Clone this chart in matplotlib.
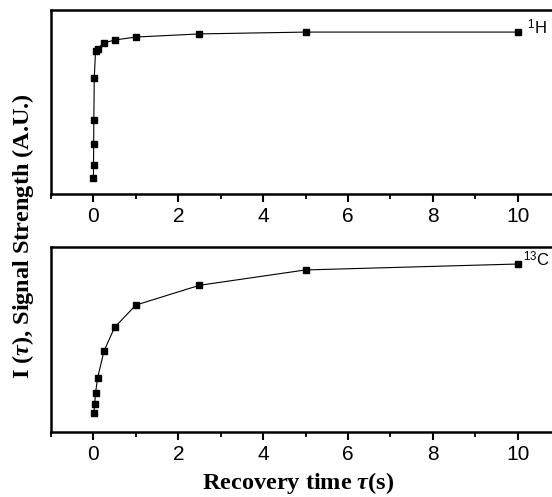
import numpy as np
import matplotlib.pyplot as plt
from matplotlib.ticker import MultipleLocator

plt.rcParams['mathtext.fontset'] = 'custom'
plt.rcParams['mathtext.rm'] = 'Liberation Sans'
plt.rcParams['mathtext.it'] = 'Liberation Serif:italic:bold'
plt.rcParams['mathtext.bf'] = 'Liberation Serif:bold'

# recovery times (s) and normalised signal strength (A.U.)
tau_h = [0.001, 0.003, 0.006, 0.01, 0.02, 0.05, 0.1, 0.25, 0.5, 1, 2.5, 5, 10]
sig_h = [0.087, 0.158, 0.272, 0.402, 0.630, 0.777, 0.790, 0.821, 0.837, 0.853, 0.870, 0.880, 0.880]

tau_c = [0.01, 0.03, 0.05, 0.1, 0.25, 0.5, 1, 2.5, 5, 10]
sig_c = [0.101, 0.150, 0.212, 0.294, 0.438, 0.566, 0.686, 0.793, 0.876, 0.908]

nuclei = ['$^{1}$H', '$^{13}$C']
label_x = [10.22, 10.12]
xticks = [0, 2, 4, 6, 8, 10]

fig = plt.figure(figsize=(5.52, 4.97), dpi=100)
ax1 = fig.add_axes([51 / 552, 1 - 194 / 497, 509 / 552, 184 / 497])
ax2 = fig.add_axes([51 / 552, 1 - 432 / 497, 509 / 552, 185 / 497])

for ax, t, s, name, lx in [(ax1, tau_h, sig_h, nuclei[0], label_x[0]),
                           (ax2, tau_c, sig_c, nuclei[1], label_x[1])]:
    ax.plot(t, s, '-', color='black', lw=0.8)
    ax.plot(t, s, 's', color='black', ms=5, mec='black')
    ax.text(lx, s[-1] + 0.025, name, fontsize=12, family='Liberation Sans',
            va='center', ha='left')
    ax.set_xlim(-1, 11)
    ax.set_ylim(0, 1)
    ax.set_yticks([])
    ax.set_xticks(xticks)
    ax.xaxis.set_minor_locator(MultipleLocator(1))
    ax.tick_params(axis='x', which='major', direction='out', length=6, width=1.5,
                   pad=3, labelsize=15)
    ax.tick_params(axis='x', which='minor', direction='out', length=3.5, width=1.3)
    for lab in ax.get_xticklabels():
        lab.set_family('Liberation Sans')
    for sp in ax.spines.values():
        sp.set_linewidth(1.8)

fig.text(298 / 552, 1 - 483 / 497, r'Recovery time $\tau$(s)', ha='center', va='center',
         family='Liberation Serif', weight='bold', fontsize=17.5)
fig.text(23 / 552, 1 - 236 / 497, r'I ($\tau$), Signal Strength (A.U.)', ha='center',
         va='center', rotation=90, family='Liberation Serif', weight='bold', fontsize=17.5)

fig.savefig('out.png', dpi=100)
